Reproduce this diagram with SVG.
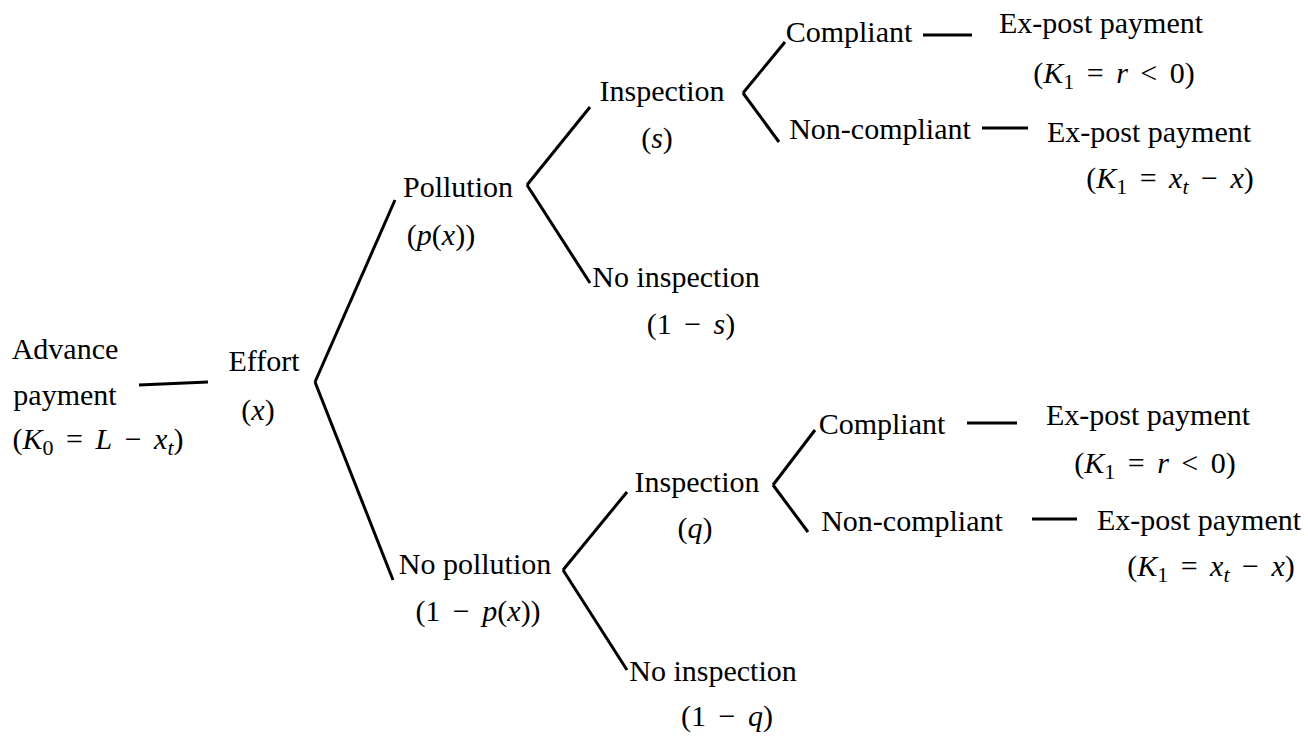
<svg xmlns="http://www.w3.org/2000/svg" width="1308" height="736" viewBox="0 0 1308 736">
<style>
text{font-family:"Liberation Serif","Times New Roman",serif;font-size:30px;fill:#000;text-anchor:middle}
.m{word-spacing:5px}
.i{font-style:italic}
.s{font-size:22px}
.c line{stroke:#000;stroke-width:3;stroke-linecap:butt}
</style>
<rect width="1308" height="736" fill="#fff"/>
<g class="c" id="connectors">
<line x1="139" y1="385" x2="208" y2="382"/>
<line x1="315" y1="382" x2="395" y2="200"/>
<line x1="315" y1="382" x2="393" y2="580"/>
<line x1="527" y1="185" x2="590" y2="107"/>
<line x1="527" y1="185" x2="590" y2="283"/>
<line x1="743" y1="93" x2="785" y2="42"/>
<line x1="743" y1="93" x2="779" y2="142"/>
<line x1="923" y1="35" x2="972" y2="35"/>
<line x1="982" y1="128" x2="1028" y2="128"/>
<line x1="563" y1="570" x2="627" y2="492"/>
<line x1="563" y1="570" x2="627" y2="670"/>
<line x1="773" y1="485" x2="815" y2="430"/>
<line x1="773" y1="485" x2="808" y2="532"/>
<line x1="967" y1="423" x2="1017" y2="423"/>
<line x1="1032" y1="519" x2="1077" y2="519"/>
</g>
<g id="advance">
<text x="65" y="359">Advance</text>
<text x="65" y="405">payment</text>
<text class="m" x="98" y="449">(<tspan class="i">K</tspan><tspan class="s" dy="6">0</tspan><tspan dy="-6"> = </tspan><tspan class="i">L</tspan> − <tspan class="i">x</tspan><tspan class="s i" dy="6">t</tspan><tspan dy="-6">)</tspan></text>
</g>
<g id="effort">
<text x="264" y="371">Effort</text>
<text x="258" y="420">(<tspan class="i">x</tspan>)</text>
</g>
<g id="pollution">
<text x="458" y="197">Pollution</text>
<text x="441" y="245">(<tspan class="i">p</tspan>(<tspan class="i">x</tspan>))</text>
</g>
<g id="inspection-s">
<text x="662" y="101">Inspection</text>
<text x="657" y="148">(<tspan class="i">s</tspan>)</text>
</g>
<g id="no-inspection-s">
<text x="676" y="287">No inspection</text>
<text class="m" x="691" y="334">(1 − <tspan class="i">s</tspan>)</text>
</g>
<g id="compliant-1">
<text x="849" y="42">Compliant</text>
</g>
<g id="payment-1a">
<text x="1101" y="33">Ex-post payment</text>
<text class="m" x="1114" y="83">(<tspan class="i">K</tspan><tspan class="s" dy="6">1</tspan><tspan dy="-6"> = </tspan><tspan class="i">r</tspan> &lt; 0)</text>
</g>
<g id="noncompliant-1">
<text x="880" y="139">Non-compliant</text>
</g>
<g id="payment-1b">
<text x="1149" y="142">Ex-post payment</text>
<text class="m" x="1170" y="188">(<tspan class="i">K</tspan><tspan class="s" dy="6">1</tspan><tspan dy="-6"> = </tspan><tspan class="i">x</tspan><tspan class="s i" dy="6">t</tspan><tspan dy="-6"> − </tspan><tspan class="i">x</tspan>)</text>
</g>
<g id="no-pollution">
<text x="475" y="574">No pollution</text>
<text class="m" x="478" y="621">(1 − <tspan class="i">p</tspan>(<tspan class="i">x</tspan>))</text>
</g>
<g id="inspection-q">
<text x="697" y="492">Inspection</text>
<text x="695" y="538">(<tspan class="i">q</tspan>)</text>
</g>
<g id="no-inspection-q">
<text x="713" y="681">No inspection</text>
<text class="m" x="727" y="726">(1 − <tspan class="i">q</tspan>)</text>
</g>
<g id="compliant-2">
<text x="882" y="434">Compliant</text>
</g>
<g id="payment-2a">
<text x="1148" y="425">Ex-post payment</text>
<text class="m" x="1155" y="473">(<tspan class="i">K</tspan><tspan class="s" dy="6">1</tspan><tspan dy="-6"> = </tspan><tspan class="i">r</tspan> &lt; 0)</text>
</g>
<g id="noncompliant-2">
<text x="912" y="531">Non-compliant</text>
</g>
<g id="payment-2b">
<text x="1199" y="530">Ex-post payment</text>
<text class="m" x="1211" y="576">(<tspan class="i">K</tspan><tspan class="s" dy="6">1</tspan><tspan dy="-6"> = </tspan><tspan class="i">x</tspan><tspan class="s i" dy="6">t</tspan><tspan dy="-6"> − </tspan><tspan class="i">x</tspan>)</text>
</g>
</svg>
